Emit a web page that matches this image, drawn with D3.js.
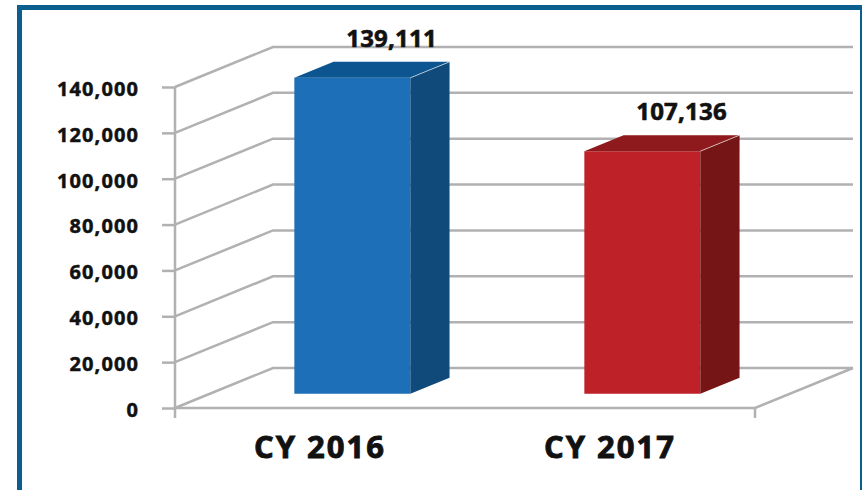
<!DOCTYPE html>
<html>
<head>
<meta charset="utf-8">
<script src="https://cdn.jsdelivr.net/npm/d3@7"></script>
<style>
  html, body { margin: 0; padding: 0; background: #fff; }
  #chart { width: 862px; height: 490px; overflow: hidden; }
</style>
</head>
<body>
<div id="chart"></div>
<script>
const categories = ["CY 2016", "CY 2017"];
const values = [139111, 107136];
const yTicks = [0, 20000, 40000, 60000, 80000, 100000, 120000, 140000];
const barColors = [
    { front: "#1d6fb8", top: "#0c5591", side: "#0f4a7b" },
    { front: "#be2127", top: "#8e1a1d", side: "#761516" }
];

const width = 862, height = 490;
const depth = { dx: 98, dy: -40 };       // full depth of the 3d box
const barZ = [0.33, 0.73];               // bar front/back inside the depth
const grid = "#b1b1b3";

const svg = d3.select("#chart").append("svg")
    .attr("width", width)
    .attr("height", height)
    .attr("font-family", "'Open Sans', sans-serif")
    .attr("font-weight", 700);

const x = d3.scaleBand()
    .domain(categories)
    .range([175, 755]);

const y = d3.scaleLinear()
    .domain([0, 140000])
    .range([408, 87]);

// point in the front plane pushed back by z (0..1)
const p = (px, py, z) => [px + z * depth.dx, py + z * depth.dy];

// frame
svg.append("rect")
    .attr("x", 19.5).attr("y", 7.5)
    .attr("width", 843).attr("height", 500)
    .attr("fill", "none")
    .attr("stroke", "#0b5f8f")
    .attr("stroke-width", 5);

// walls: gridlines run diagonally on the side, then across the back
const wall = svg.append("g")
    .attr("fill", "none")
    .attr("stroke", grid)
    .attr("stroke-width", 2.5);

wall.selectAll("path.grid")
    .data(yTicks)
    .join("path")
    .attr("class", "grid")
    .attr("d", d => {
        const a = [x.range()[0], y(d)];
        const b = p(a[0], a[1], 1);
        const c = p(x.range()[1], y(d), 1);
        return d3.line()([a, b, c]);
    });

// floor front edge and right diagonal
wall.append("path")
    .attr("d", d3.line()([
        [x.range()[0], y(0)],
        [x.range()[1], y(0)],
        p(x.range()[1], y(0), 1)
    ]));

// axis line and bottom ticks
wall.append("line")
    .attr("x1", x.range()[0]).attr("x2", x.range()[0])
    .attr("y1", y(140000)).attr("y2", y(0) + 10);
wall.append("line")
    .attr("x1", x.range()[1]).attr("x2", x.range()[1])
    .attr("y1", y(0)).attr("y2", y(0) + 10);

// y axis ticks + labels
const yAxis = svg.append("g")
    .attr("transform", `translate(${x.range()[0]},0)`)
    .call(d3.axisLeft(y)
        .tickValues(yTicks)
        .tickSize(13)
        .tickPadding(23)
        .tickFormat(d3.format(",")));
yAxis.select(".domain").remove();
yAxis.selectAll(".tick line")
    .attr("stroke", grid)
    .attr("stroke-width", 2.5);
yAxis.selectAll(".tick text")
    .attr("fill", "#111")
    .attr("stroke", "#111")
    .attr("stroke-width", 0.5)
    .attr("font-family", "'Open Sans', sans-serif")
    .attr("font-weight", 700)
    .attr("font-size", 20)
    .attr("letter-spacing", 1.1)
    .attr("dy", "0.42em");

// bars
const barW = x.bandwidth() * 0.4;
const bars = svg.append("g")
    .selectAll("g")
    .data(categories.map((c, i) => ({ name: c, value: values[i], color: barColors[i] })))
    .join("g");

const face = (d, which) => {
    const x0 = x(d.name) + (x.bandwidth() - barW) / 2;
    const x1 = x0 + barW;
    const yb = y(0) - 1, yt = y(d.value) + 2;
    const [z0, z1] = barZ;
    if (which === "front")
        return [p(x0, yb, z0), p(x1, yb, z0), p(x1, yt, z0), p(x0, yt, z0)];
    if (which === "top")
        return [p(x0, yt, z0), p(x1, yt, z0), p(x1, yt, z1), p(x0, yt, z1)];
    return [p(x1, yb, z0), p(x1, yb, z1), p(x1, yt, z1), p(x1, yt, z0)];
};

["front", "top", "side"].forEach(which => {
    bars.append("path")
        .attr("d", d => d3.line()(face(d, which)) + "Z")
        .attr("fill", d => d.color[which]);
});

// thin highlight on the top/side edge
bars.append("path")
    .attr("d", d => {
        const f = face(d, "top");
        return d3.line()([f[1], f[2]]);
    })
    .attr("stroke", "#fff")
    .attr("stroke-opacity", 0.6)
    .attr("stroke-width", 1);

// value labels, centered over the back edge of the top
bars.append("text")
    .attr("x", d => p(x(d.name) + x.bandwidth() / 2, 0, barZ[1])[0])
    .attr("y", d => p(0, y(d.value), 1)[1] - 2)
    .attr("text-anchor", "middle")
    .attr("font-size", 24)
    .attr("letter-spacing", 0.2)
    .attr("fill", "#111")
    .attr("stroke", "#111")
    .attr("stroke-width", 0.6)
    .text(d => d3.format(",")(d.value));

// category labels
svg.append("g")
    .selectAll("text")
    .data(categories)
    .join("text")
    .attr("x", d => x(d) + x.bandwidth() / 2)
    .attr("y", 458)
    .attr("text-anchor", "middle")
    .attr("font-size", 31)
    .attr("letter-spacing", 2)
    .attr("fill", "#111")
    .attr("stroke", "#111")
    .attr("stroke-width", 0.9)
    .text(d => d);
</script>
</body>
</html>
